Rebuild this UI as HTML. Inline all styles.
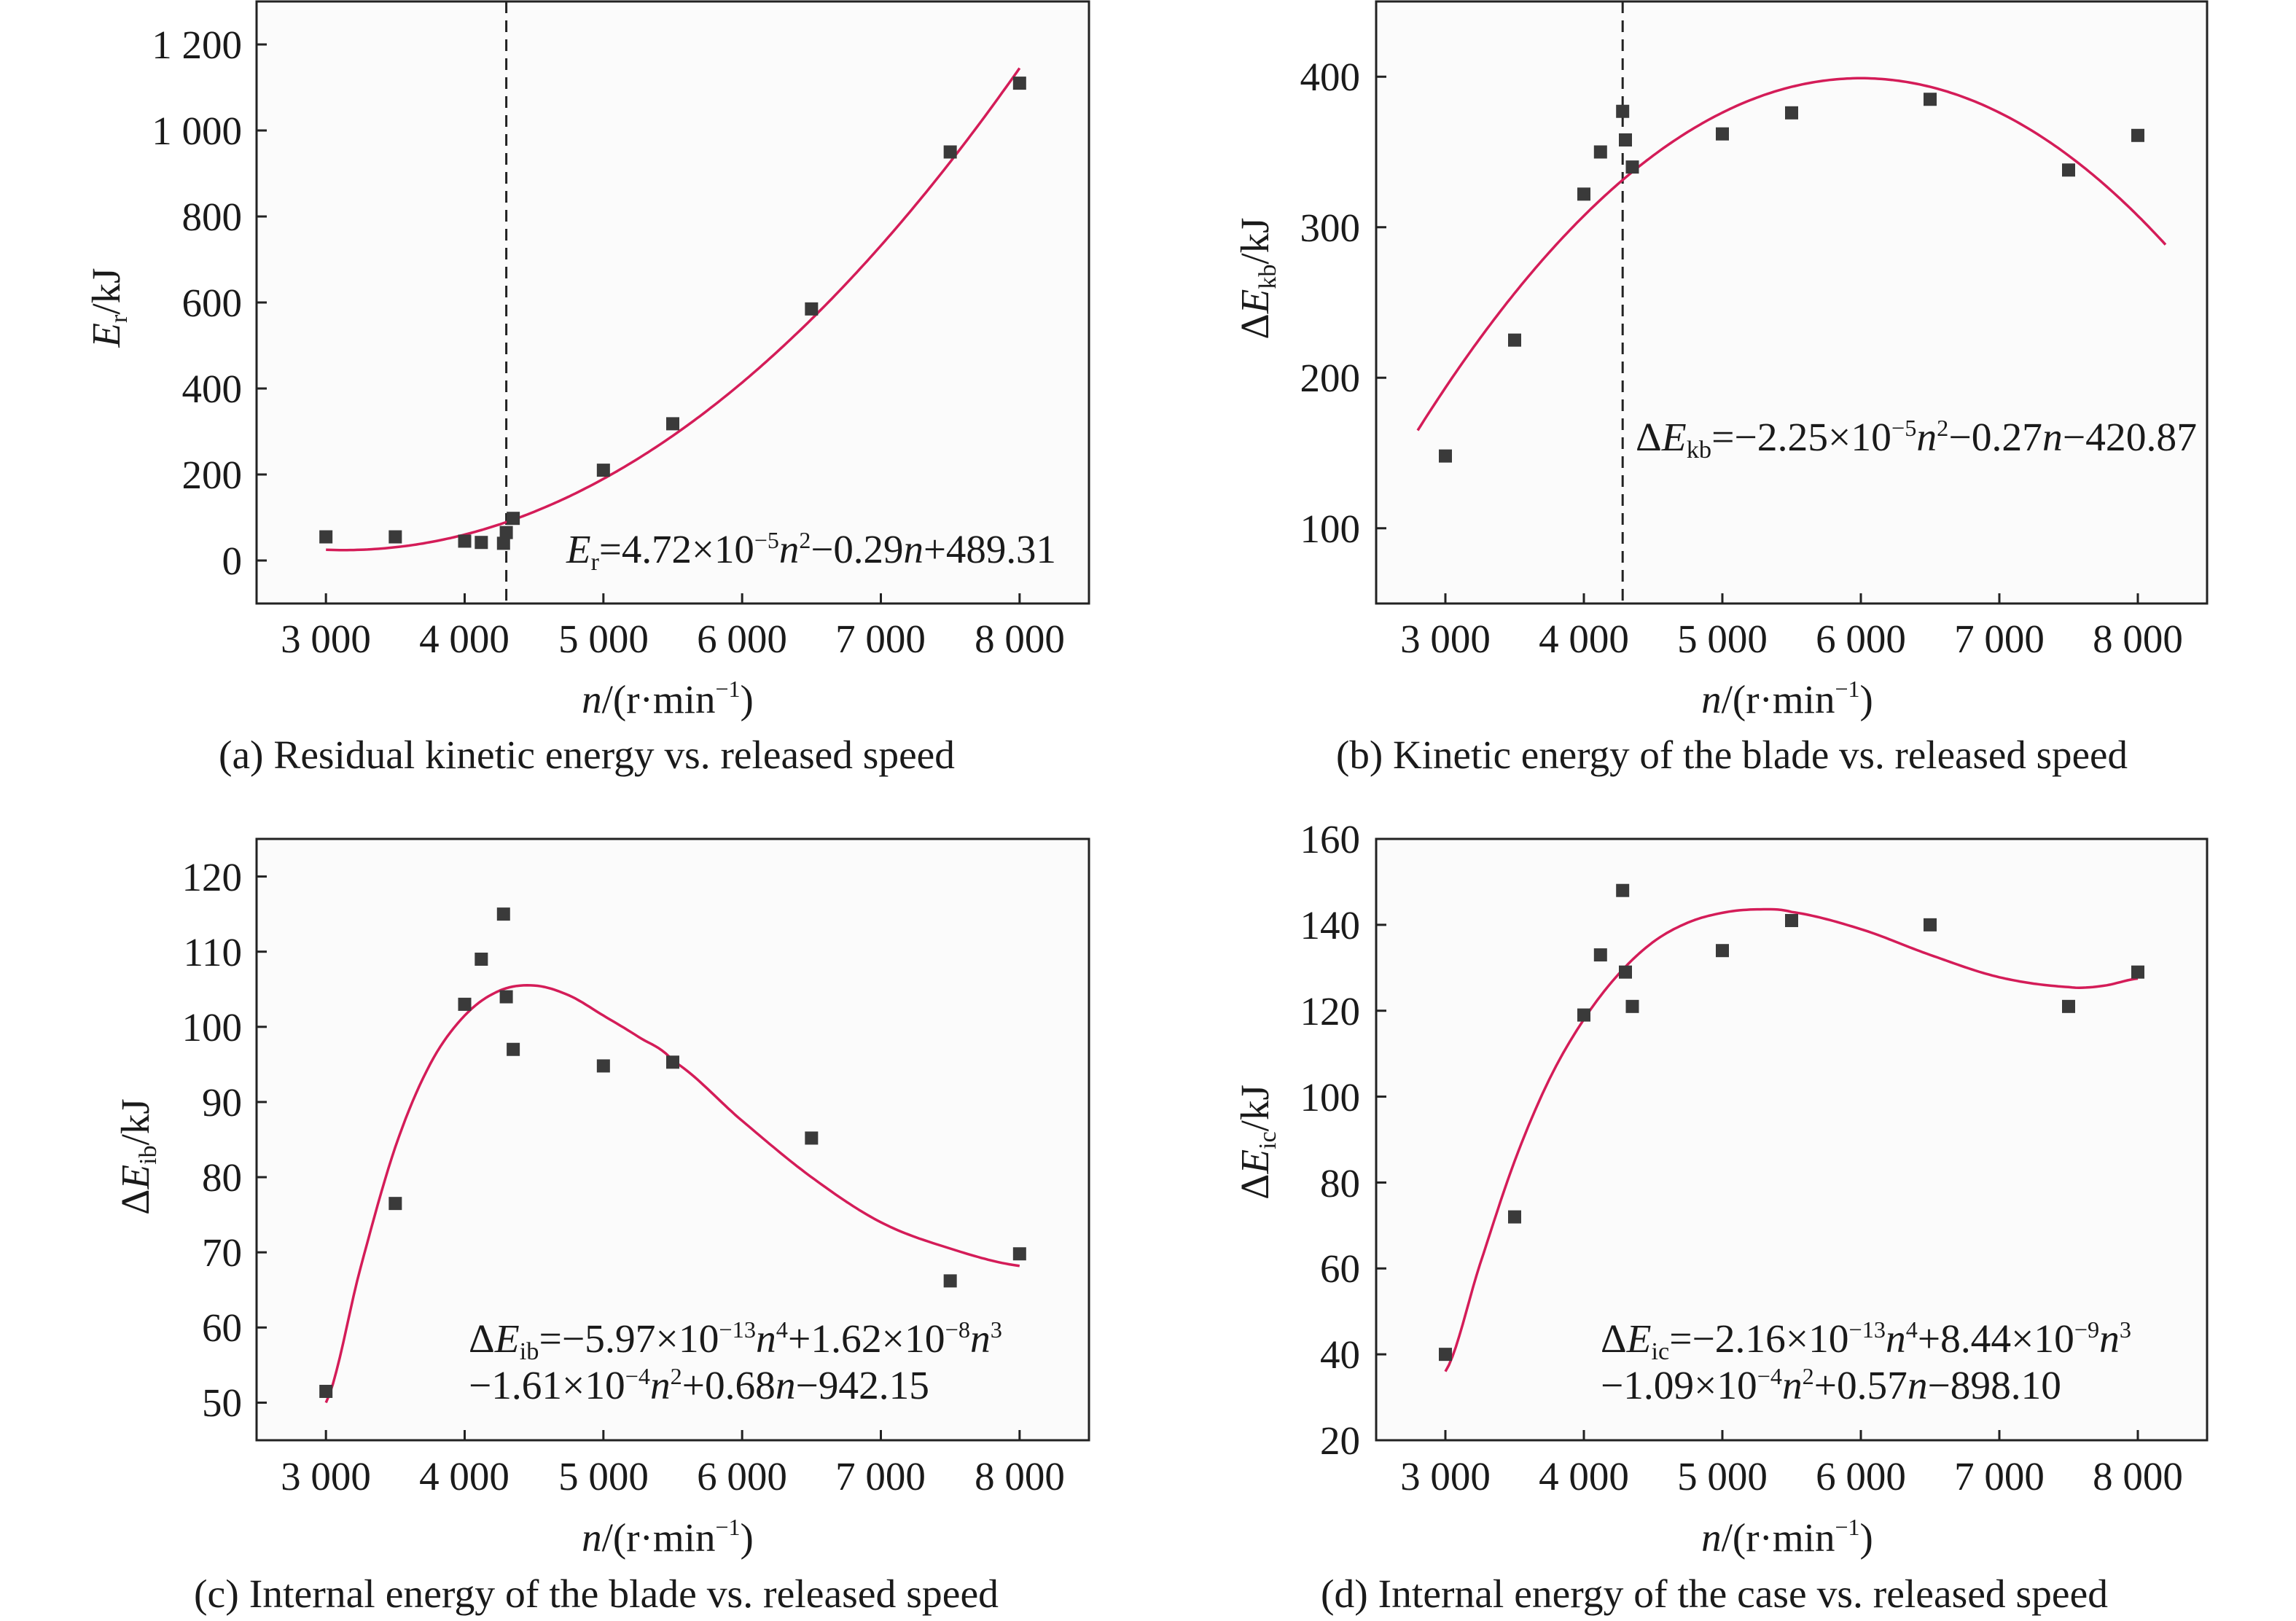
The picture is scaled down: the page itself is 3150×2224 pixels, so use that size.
<!DOCTYPE html>
<html><head><meta charset="utf-8"><style>
html,body{margin:0;padding:0;background:#fff}
svg{display:block}
text{font-family:"Liberation Serif",serif;fill:#1a1a1a}
.t{font-size:55px}
.it{font-style:italic}
</style></head><body>
<svg id="s" width="3150" height="2224" viewBox="0 0 3150 2224" xmlns="http://www.w3.org/2000/svg">
<rect width="3150" height="2224" fill="#fff"/>
<g id="g"></g>
<g class="t" text-anchor="end">
<text x="332" y="80">1 200</text><text x="332" y="198">1 000</text><text x="332" y="316">800</text><text x="332" y="434">600</text><text x="332" y="552">400</text><text x="332" y="670">200</text><text x="332" y="788">0</text>
<text x="1866" y="124">400</text><text x="1866" y="331">300</text><text x="1866" y="537">200</text><text x="1866" y="744">100</text>
<text x="332" y="1222">120</text><text x="332" y="1325">110</text><text x="332" y="1428">100</text><text x="332" y="1531">90</text><text x="332" y="1634">80</text><text x="332" y="1737">70</text><text x="332" y="1840">60</text><text x="332" y="1943">50</text>
<text x="1866" y="1170">160</text><text x="1866" y="1288">140</text><text x="1866" y="1406">120</text><text x="1866" y="1524">100</text><text x="1866" y="1642">80</text><text x="1866" y="1759">60</text><text x="1866" y="1877">40</text><text x="1866" y="1995">20</text>
</g>
<g class="t" text-anchor="middle">
<text x="447" y="895">3 000</text><text x="637" y="895">4 000</text><text x="828" y="895">5 000</text><text x="1018" y="895">6 000</text><text x="1208" y="895">7 000</text><text x="1399" y="895">8 000</text>
<text x="1983" y="895">3 000</text><text x="2173" y="895">4 000</text><text x="2363" y="895">5 000</text><text x="2553" y="895">6 000</text><text x="2743" y="895">7 000</text><text x="2933" y="895">8 000</text>
<text x="447" y="2044">3 000</text><text x="637" y="2044">4 000</text><text x="828" y="2044">5 000</text><text x="1018" y="2044">6 000</text><text x="1208" y="2044">7 000</text><text x="1399" y="2044">8 000</text>
<text x="1983" y="2044">3 000</text><text x="2173" y="2044">4 000</text><text x="2363" y="2044">5 000</text><text x="2553" y="2044">6 000</text><text x="2743" y="2044">7 000</text><text x="2933" y="2044">8 000</text>
<text x="916" y="978"><tspan class="it">n</tspan>/(r·min<tspan dy="-22" font-size="32">−1</tspan><tspan dy="22">)</tspan></text>
<text x="2452" y="978"><tspan class="it">n</tspan>/(r·min<tspan dy="-22" font-size="32">−1</tspan><tspan dy="22">)</tspan></text>
<text x="916" y="2128"><tspan class="it">n</tspan>/(r·min<tspan dy="-22" font-size="32">−1</tspan><tspan dy="22">)</tspan></text>
<text x="2452" y="2128"><tspan class="it">n</tspan>/(r·min<tspan dy="-22" font-size="32">−1</tspan><tspan dy="22">)</tspan></text>
<text x="805" y="1054" textLength="1010" lengthAdjust="spacingAndGlyphs">(a) Residual kinetic energy vs. released speed</text>
<text x="2376" y="1054" textLength="1086" lengthAdjust="spacingAndGlyphs">(b) Kinetic energy of the blade vs. released speed</text>
<text x="818" y="2205" textLength="1104" lengthAdjust="spacingAndGlyphs">(c) Internal energy of the blade vs. released speed</text>
<text x="2352" y="2205" textLength="1080" lengthAdjust="spacingAndGlyphs">(d) Internal energy of the case vs. released speed</text>
</g>
<g class="t" text-anchor="middle">
<text transform="translate(164,422) rotate(-90)"><tspan class="it">E</tspan><tspan font-size="34" dy="10">r</tspan><tspan dy="-10">/kJ</tspan></text>
<text transform="translate(1740,382) rotate(-90)">Δ<tspan class="it">E</tspan><tspan font-size="34" dy="10">kb</tspan><tspan dy="-10">/kJ</tspan></text>
<text transform="translate(204,1587) rotate(-90)">Δ<tspan class="it">E</tspan><tspan font-size="34" dy="10">ib</tspan><tspan dy="-10">/kJ</tspan></text>
<text transform="translate(1740,1567) rotate(-90)">Δ<tspan class="it">E</tspan><tspan font-size="34" dy="10">ic</tspan><tspan dy="-10">/kJ</tspan></text>
</g>
<g class="t">
<text x="777" y="772" textLength="672" lengthAdjust="spacingAndGlyphs"><tspan class="it">E</tspan><tspan font-size="34" dy="10">r</tspan><tspan dy="-10">=4.72×10</tspan><tspan font-size="32" dy="-20">−5</tspan><tspan class="it" dy="20">n</tspan><tspan font-size="32" dy="-20">2</tspan><tspan dy="20">−0.29</tspan><tspan class="it">n</tspan>+489.31</text>
<text x="2244" y="618" textLength="770" lengthAdjust="spacingAndGlyphs">Δ<tspan class="it">E</tspan><tspan font-size="34" dy="10">kb</tspan><tspan dy="-10">=−2.25×10</tspan><tspan font-size="32" dy="-20">−5</tspan><tspan class="it" dy="20">n</tspan><tspan font-size="32" dy="-20">2</tspan><tspan dy="20">−0.27</tspan><tspan class="it">n</tspan>−420.87</text>
<text x="643" y="1855" textLength="732" lengthAdjust="spacingAndGlyphs">Δ<tspan class="it">E</tspan><tspan font-size="34" dy="10">ib</tspan><tspan dy="-10">=−5.97×10</tspan><tspan font-size="32" dy="-20">−13</tspan><tspan class="it" dy="20">n</tspan><tspan font-size="32" dy="-20">4</tspan><tspan dy="20">+1.62×10</tspan><tspan font-size="32" dy="-20">−8</tspan><tspan class="it" dy="20">n</tspan><tspan font-size="32" dy="-20">3</tspan></text>
<text x="643" y="1919" textLength="632" lengthAdjust="spacingAndGlyphs">−1.61×10<tspan font-size="32" dy="-20">−4</tspan><tspan class="it" dy="20">n</tspan><tspan font-size="32" dy="-20">2</tspan><tspan dy="20">+0.68</tspan><tspan class="it">n</tspan>−942.15</text>
<text x="2196" y="1855" textLength="728" lengthAdjust="spacingAndGlyphs">Δ<tspan class="it">E</tspan><tspan font-size="34" dy="10">ic</tspan><tspan dy="-10">=−2.16×10</tspan><tspan font-size="32" dy="-20">−13</tspan><tspan class="it" dy="20">n</tspan><tspan font-size="32" dy="-20">4</tspan><tspan dy="20">+8.44×10</tspan><tspan font-size="32" dy="-20">−9</tspan><tspan class="it" dy="20">n</tspan><tspan font-size="32" dy="-20">3</tspan></text>
<text x="2196" y="1919" textLength="632" lengthAdjust="spacingAndGlyphs">−1.09×10<tspan font-size="32" dy="-20">−4</tspan><tspan class="it" dy="20">n</tspan><tspan font-size="32" dy="-20">2</tspan><tspan dy="20">+0.57</tspan><tspan class="it">n</tspan>−898.10</text>
</g>
</svg>
<script>
(function(){
var g=document.getElementById("g"),h="";
function P(x0,x1,y0,y1,vmin,vmax){return {X:function(n){return x0+(n-2500)/6000*(x1-x0);},Y:function(v){return y0+(vmax-v)/(vmax-vmin)*(y1-y0);},x0:x0,x1:x1,y0:y0,y1:y1};}
var A=P(352,1494,2,828,-100,1300),B=P(1888,3028,2,828,50,450),C=P(352,1494,1151,1976,45,125),D=P(1888,3028,1151,1976,20,160);
function frame(p,yt){
 h+='<rect x="'+p.x0+'" y="'+p.y0+'" width="'+(p.x1-p.x0)+'" height="'+(p.y1-p.y0)+'" fill="#fbfbfb" stroke="#222" stroke-width="3"/>';
 for(var n=3000;n<=8000;n+=1000){var x=p.X(n);h+='<line x1="'+x+'" y1="'+p.y1+'" x2="'+x+'" y2="'+(p.y1-14)+'" stroke="#222" stroke-width="3"/>';}
 yt.forEach(function(v){var y=p.Y(v);h+='<line x1="'+p.x0+'" y1="'+y+'" x2="'+(p.x0+14)+'" y2="'+y+'" stroke="#222" stroke-width="3"/>';});
}
function curve(p,f,a,b){var d="";for(var n=a;n<=b;n+=25){d+=(d?"L":"M")+p.X(n).toFixed(1)+","+p.Y(f(n)).toFixed(1);}h+='<path d="'+d+'" fill="none" stroke="#d41c58" stroke-width="3.5" stroke-linejoin="round"/>';}
function spl(pts){return function(n){for(var i=0;i<pts.length-1;i++){if(n<=pts[i+1][0]){var p0=pts[Math.max(i-1,0)],p1=pts[i],p2=pts[i+1],p3=pts[Math.min(i+2,pts.length-1)];var t=(n-p1[0])/(p2[0]-p1[0]),t2=t*t,t3=t2*t;return 0.5*((2*p1[1])+(-p0[1]+p2[1])*t+(2*p0[1]-5*p1[1]+4*p2[1]-p3[1])*t2+(-p0[1]+3*p1[1]-3*p2[1]+p3[1])*t3);}}return pts[pts.length-1][1];};}
function smooth(pts){var f=spl(pts),o=[];for(var n=3000;n<=8000;n+=125)o.push([n,f(n)]);for(var k=0;k<3;k++){var q=o.map(function(p,i){if(i==0||i==o.length-1)return p;return [p[0],(o[i-1][1]+2*p[1]+o[i+1][1])/4];});o=q;}return spl(o);}
function pts(p,arr){arr.forEach(function(q){h+='<rect x="'+(p.X(q[0])-9)+'" y="'+(p.Y(q[1])-9)+'" width="18" height="18" fill="#3a3a3a"/>';});}
function dash(p,n){var x=p.X(n);h+='<line x1="'+x+'" y1="'+p.y0+'" x2="'+x+'" y2="'+p.y1+'" stroke="#222" stroke-width="3" stroke-dasharray="16,10"/>';}
frame(A,[0,200,400,600,800,1000,1200]);frame(B,[100,200,300,400]);frame(C,[50,60,70,80,90,100,110,120]);frame(D,[20,40,60,80,100,120,140,160]);
dash(A,4300);dash(B,4280);
curve(A,function(n){var t=(n-3000)/1000;return 25-12*t+47.2*t*t;},3000,8000);
curve(B,function(n){var t=(n-6000)/1000;return 399-22.85*t*t;},2800,8200);
curve(C,spl([[3000,50],[3250,68],[3500,84],[3750,95],[4000,101.5],[4250,104.8],[4500,105.5],[4750,104.2],[5000,101.5],[5250,98.7],[5500,95.5],[6000,87.5],[6500,80],[7000,74],[7500,70.5],[8000,68.2]]),3000,8000);
curve(D,spl([[3000,36],[3250,61],[3500,85],[3750,104],[4000,118],[4250,128.5],[4500,136],[4750,140.5],[5000,142.8],[5250,143.6],[5500,143],[6000,139],[6500,133],[7000,127.8],[7500,125.5],[7750,125.8],[8000,127.5]]),3000,8000);
pts(A,[[3000,55],[3500,55],[4000,45],[4120,42],[4280,40],[4300,65],[4350,98],[5000,210],[5500,318],[6500,585],[7500,950],[8000,1110]]);
pts(B,[[3000,148],[3500,225],[4000,322],[4120,350],[4280,377],[4300,358],[4350,340],[5000,362],[5500,376],[6500,385],[7500,338],[8000,361]]);
pts(C,[[3000,51.5],[3500,76.5],[4000,103],[4120,109],[4280,115],[4300,104],[4350,97],[5000,94.8],[5500,95.3],[6500,85.2],[7500,66.2],[8000,69.8]]);
pts(D,[[3000,40],[3500,72],[4000,119],[4120,133],[4280,148],[4300,129],[4350,121],[5000,134],[5500,141],[6500,140],[7500,121],[8000,129]]);
g.innerHTML=h;
})();
</script>
</body></html>
